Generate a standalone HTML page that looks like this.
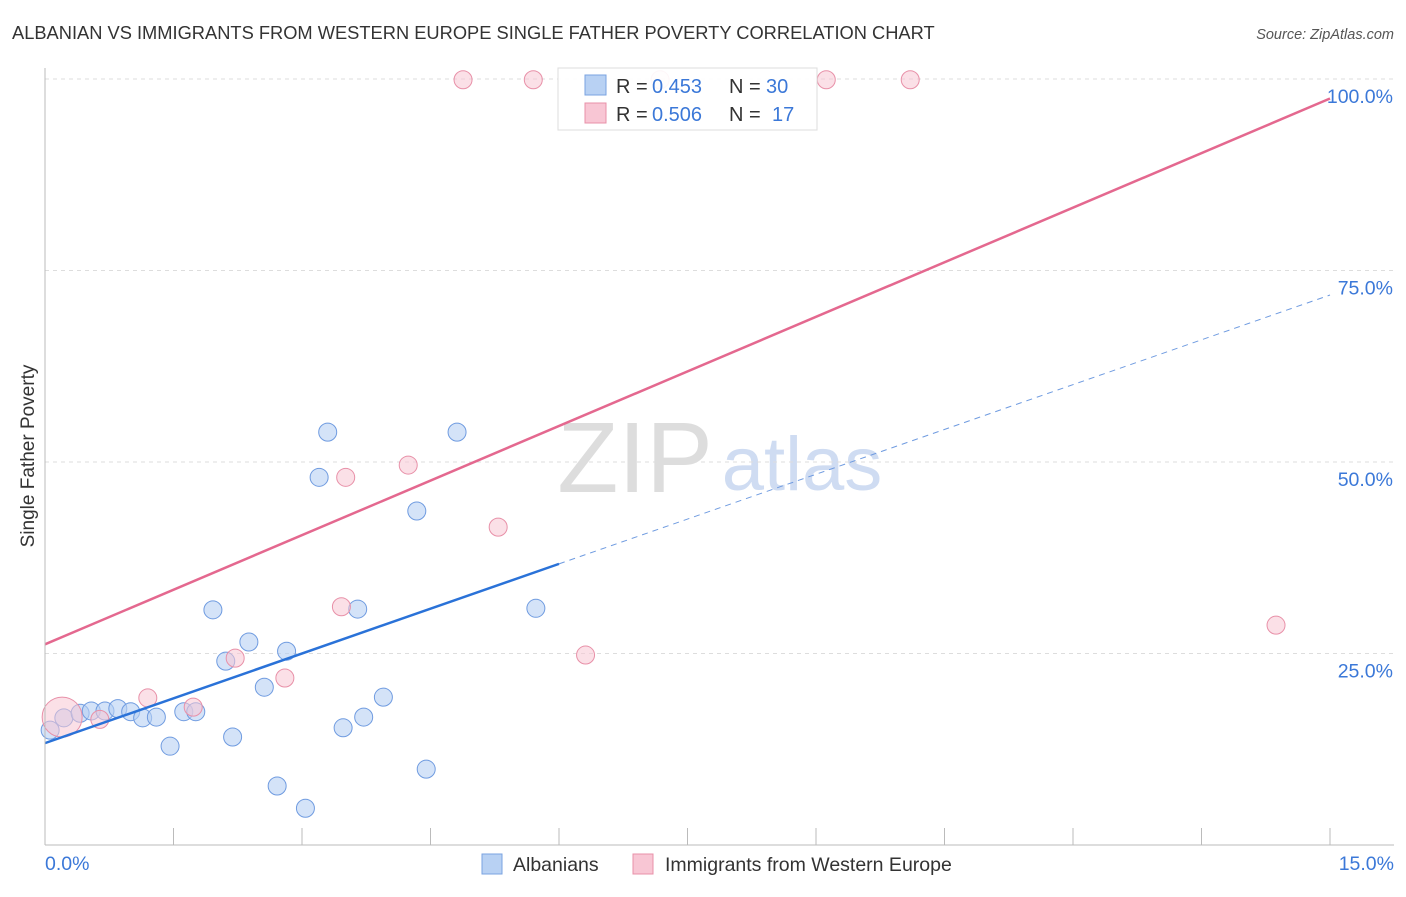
<!DOCTYPE html>
<html><head><meta charset="utf-8"><style>
body{margin:0;background:#fff;font-family:"Liberation Sans",sans-serif;}
svg text{font-family:"Liberation Sans",sans-serif;}
</style></head><body>
<svg width="1406" height="892" viewBox="0 0 1406 892" id="c">
<text x="12" y="39" font-size="18.3" fill="#333">ALBANIAN VS IMMIGRANTS FROM WESTERN EUROPE SINGLE FATHER POVERTY CORRELATION CHART</text>
<text x="1394" y="39" font-size="14.5" fill="#555" font-style="italic" text-anchor="end">Source: ZipAtlas.com</text>
<text x="34" y="456" font-size="19" fill="#333" transform="rotate(-90 34 456)" text-anchor="middle">Single Father Poverty</text>
<g><text x="635" y="492" font-size="100" fill="#ddd" font-family="Liberation Serif" text-anchor="middle">ZIP</text><text x="802" y="490" font-size="76" fill="#cfdcf2" text-anchor="middle">atlas</text></g>
<g id="grid"></g><g id="pts"></g><g id="lines"></g>
<line x1="45" y1="68" x2="45" y2="845" stroke="#bbb"/>
<line x1="45" y1="845" x2="1394" y2="845" stroke="#bbb"/>
<text x="45" y="870" font-size="19.5" fill="#3b78d8">0.0%</text>
<text x="1394" y="870" font-size="19.5" fill="#3b78d8" text-anchor="end">15.0%</text>
<g>
<rect x="482" y="854" width="20" height="20" fill="#b8d1f3" stroke="#7aa3e0"/>
<text x="513" y="871" font-size="19.5" fill="#333">Albanians</text>
<rect x="633" y="854" width="20" height="20" fill="#f8c6d4" stroke="#e890a8"/>
<text x="665" y="871" font-size="19.5" fill="#333">Immigrants from Western Europe</text></g>
<g>
<rect x="558" y="68" width="259" height="62" fill="#fff" fill-opacity="0.92" stroke="#ddd"/>
<rect x="585" y="75" width="21" height="20" fill="#b8d1f3" stroke="#7aa3e0"/>
<rect x="585" y="103" width="21" height="20" fill="#f8c6d4" stroke="#e890a8"/>
<text x="616" y="93" font-size="20" fill="#333">R =</text>
<text x="652" y="93" font-size="20" fill="#3b78d8">0.453</text>
<text x="729" y="93" font-size="20" fill="#333">N =</text>
<text x="766" y="93" font-size="20" fill="#3b78d8">30</text>
<text x="616" y="121" font-size="20" fill="#333">R =</text>
<text x="652" y="121" font-size="20" fill="#3b78d8">0.506</text>
<text x="729" y="121" font-size="20" fill="#333">N =</text>
<text x="772" y="121" font-size="20" fill="#3b78d8">17</text></g>
</svg>
<script>
const yTicks=[25,50,75,100];
const yTickLabels=["25.0%","50.0%","75.0%","100.0%"];
const blueX=[0.06,0.22,0.41,0.54,0.70,0.85,1.00,1.14,1.30,1.46,1.62,1.76,1.96,2.11,2.19,2.38,2.56,2.71,2.82,3.04,3.20,3.30,3.48,3.65,3.72,3.95,4.34,4.45,4.81,5.73];
const blueY=[15.0,16.6,17.2,17.5,17.5,17.8,17.4,16.6,16.7,12.9,17.4,17.4,30.7,24.0,14.1,26.5,20.6,7.7,25.3,4.8,48.0,53.9,15.3,30.8,16.7,19.3,43.6,9.9,53.9,30.9];
const pinkX=[0.20,0.64,1.20,1.73,2.22,2.80,3.46,3.51,4.24,4.88,5.70,7.18,5.29,6.31,9.12,10.10,14.37];
const pinkY=[16.7,16.4,19.2,18.0,24.4,21.8,31.1,48.0,49.6,99.9,99.9,99.9,41.5,24.8,99.9,99.9,28.7];
const pinkR=[20,9,9,9,9,9,9,9,9,9,9,9,9,9,9,9,9];
const blueTrend=[13.3,3.9];
const pinkTrend=[26.2,4.75];
const X=v=>45+v/15*1285, Y=v=>845-v*7.66;
const NS="http://www.w3.org/2000/svg";
function mk(t,a,p){const e=document.createElementNS(NS,t);for(const k in a)e.setAttribute(k,a[k]);p.appendChild(e);return e;}
const g=document.getElementById('grid');
yTicks.forEach((t,i)=>{
 const l=mk('line',{x1:45,x2:1394,y1:Y(t),y2:Y(t),stroke:'#ddd','stroke-dasharray':'4,4'},g);
 
 
 const tx=mk('text',{x:1393,y:Y(t)+24,'font-size':19.5,fill:'#3b78d8','text-anchor':'end'},g);
 tx.textContent=yTickLabels[i];
 
 
});
for(let i=0;i<=10;i++){
 const l=mk('line',{x1:X(i*1.5),x2:X(i*1.5),y1:828,y2:845,stroke:'#bbb'},g);
 
 
}
const p=document.getElementById('pts');
blueX.forEach((x,i)=>{
 const c=mk('circle',{cx:X(x),cy:Y(blueY[i]),r:9,fill:'#b8d1f3','fill-opacity':0.6,stroke:'#6f9be0','stroke-width':1},p);
 
 
});
pinkX.forEach((x,i)=>{
 const c=mk('circle',{cx:X(x),cy:Y(pinkY[i]),r:pinkR[i],fill:'#f8c6d4','fill-opacity':0.55,stroke:'#e890a8','stroke-width':1},p);
 
 
});
const L=document.getElementById('lines');
const f=(t,x)=>t[0]+t[1]*x;
let a=mk('line',{x1:X(0),y1:Y(f(blueTrend,0)),x2:X(6),y2:Y(f(blueTrend,6)),stroke:'#2a72d8','stroke-width':2.5},L);


a=mk('line',{x1:X(6),y1:Y(f(blueTrend,6)),x2:X(15),y2:Y(f(blueTrend,15)),stroke:'#6f9be0','stroke-width':1,'stroke-dasharray':'6,5'},L);


a=mk('line',{x1:X(0),y1:Y(f(pinkTrend,0)),x2:X(15),y2:Y(f(pinkTrend,15)),stroke:'#e4688f','stroke-width':2.5},L);


</script>
</body></html>
